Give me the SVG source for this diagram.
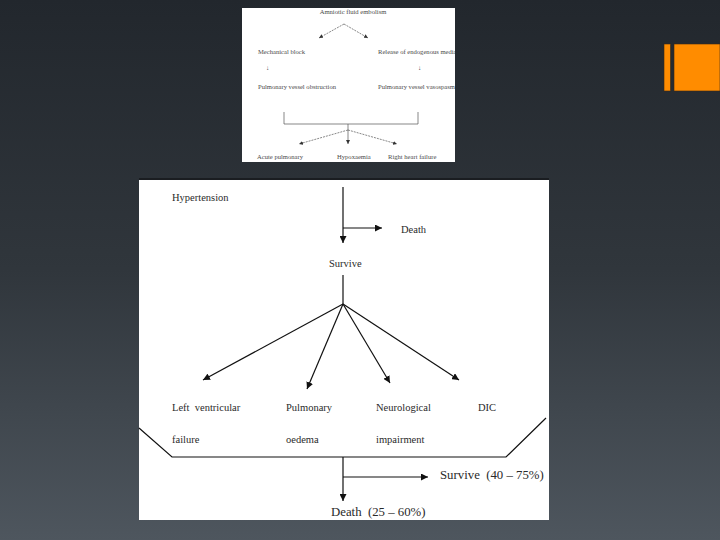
<svg xmlns="http://www.w3.org/2000/svg" width="720" height="540" viewBox="0 0 720 540">
<defs>
<linearGradient id="bg" x1="0" y1="0" x2="0" y2="1">
<stop offset="0" stop-color="#22272d"/>
<stop offset="0.5" stop-color="#30363c"/>
<stop offset="1" stop-color="#4e565e"/>
</linearGradient>
<clipPath id="clipTop"><rect x="242" y="8" width="213" height="154"/></clipPath>
<marker id="ah" viewBox="0 0 10 10" refX="10" refY="5" markerWidth="7" markerHeight="7" markerUnits="userSpaceOnUse" orient="auto">
<path d="M0,0 L10,5 L0,10 z" fill="#111"/>
</marker>
<marker id="ahs" viewBox="0 0 10 10" refX="10" refY="5" markerWidth="4" markerHeight="4" markerUnits="userSpaceOnUse" orient="auto">
<path d="M0,0 L10,5 L0,10 z" fill="#333"/>
</marker>
</defs>
<style>
.t{font-family:"Liberation Serif","Times New Roman",serif;font-size:10.5px;fill:#2a2a2a}
.s{font-family:"Liberation Serif","Times New Roman",serif;font-size:6.6px;fill:#4a4a4a}
.big{font-size:12.8px}
.ln{stroke:#111;stroke-width:1.2;fill:none}
.lns{stroke:#555;stroke-width:0.7;fill:none}
.dsh{stroke:#555;stroke-width:0.7;fill:none;stroke-dasharray:2 1}
</style>
<rect width="720" height="540" fill="url(#bg)"/>
<g id="accent">
<rect x="664" y="44" width="6.5" height="47" fill="#ff8c00" stroke="#3a2a18" stroke-width="0.6"/>
<rect x="674" y="44" width="46" height="47" fill="#ff8c00" stroke="#3a2a18" stroke-width="0.6"/>
</g>
<g id="panel-top">
<rect x="242" y="8" width="213" height="154" fill="#ffffff"/>
</g>
<g id="panel-bottom">
<rect x="139" y="179" width="410" height="341" fill="#ffffff"/>
<rect x="139" y="178" width="410" height="2" fill="#1a1d21"/>
</g>
<g id="connectors">
<line class="dsh" x1="344" y1="24" x2="319" y2="38" marker-end="url(#ahs)"/>
<line class="dsh" x1="344" y1="24" x2="368" y2="38" marker-end="url(#ahs)"/>
<polyline class="lns" points="284,112 284,124 418,124 418,112"/>
<line class="lns" x1="348" y1="124" x2="348" y2="130"/>
<line class="dsh" x1="348" y1="130" x2="299" y2="144" marker-end="url(#ahs)"/>
<line class="lns" x1="348" y1="130" x2="348" y2="144" marker-end="url(#ahs)"/>
<line class="dsh" x1="348" y1="130" x2="397" y2="144" marker-end="url(#ahs)"/>
<line class="ln" x1="343" y1="187" x2="343" y2="243" marker-end="url(#ah)"/>
<line class="ln" x1="343" y1="228" x2="382" y2="228" marker-end="url(#ah)"/>
<line class="ln" x1="343" y1="275" x2="343" y2="304"/>
<line class="ln" x1="343" y1="304" x2="203" y2="380" marker-end="url(#ah)"/>
<line class="ln" x1="343" y1="304" x2="307" y2="389" marker-end="url(#ah)"/>
<line class="ln" x1="343" y1="304" x2="390" y2="383" marker-end="url(#ah)"/>
<line class="ln" x1="343" y1="304" x2="459" y2="380" marker-end="url(#ah)"/>
<polyline class="ln" points="139,428 172,457 506,457 546,418"/>
<line class="ln" x1="343" y1="457" x2="343" y2="501" marker-end="url(#ah)"/>
<line class="ln" x1="343" y1="477" x2="428" y2="477" marker-end="url(#ah)"/>
</g>
<g clip-path="url(#clipTop)">
<g id="n-afe"><text class="s" x="353" y="14" text-anchor="middle">Amniotic fluid embolism</text></g>
<g id="n-mech"><text class="s" x="258" y="54">Mechanical block</text></g>
<g id="n-release"><text class="s" x="378" y="54">Release of endogenous mediators</text></g>
<g id="n-arrow-l"><text class="s" x="266" y="70">↓</text></g>
<g id="n-arrow-r"><text class="s" x="418" y="70">↓</text></g>
<g id="n-pvo"><text class="s" x="258" y="89">Pulmonary vessel obstruction</text></g>
<g id="n-pvv"><text class="s" x="378" y="89">Pulmonary vessel vasospasm</text></g>
<g id="n-acute"><text class="s" x="257" y="159">Acute pulmonary</text></g>
<g id="n-hypox"><text class="s" x="337" y="159">Hypoxaemia</text></g>
<g id="n-rhf"><text class="s" x="388" y="159">Right heart failure</text></g>
</g>
<g id="n-hyper"><text class="t" x="172" y="201">Hypertension</text></g>
<g id="n-death1"><text class="t" x="401" y="233">Death</text></g>
<g id="n-survive1"><text class="t" x="329" y="267">Survive</text></g>
<g id="n-lvf"><text class="t" x="172" y="411" xml:space="preserve">Left  ventricular</text><text class="t" x="172" y="443">failure</text></g>
<g id="n-po"><text class="t" x="286" y="411">Pulmonary</text><text class="t" x="286" y="443">oedema</text></g>
<g id="n-ni"><text class="t" x="376" y="411">Neurological</text><text class="t" x="376" y="443">impairment</text></g>
<g id="n-dic"><text class="t" x="478" y="411">DIC</text></g>
<g id="n-survive2"><text class="t big" x="440" y="479" xml:space="preserve">Survive  (40 – 75%)</text></g>
<g id="n-death2"><text class="t big" x="331" y="516" xml:space="preserve">Death  (25 – 60%)</text></g>
</svg>
